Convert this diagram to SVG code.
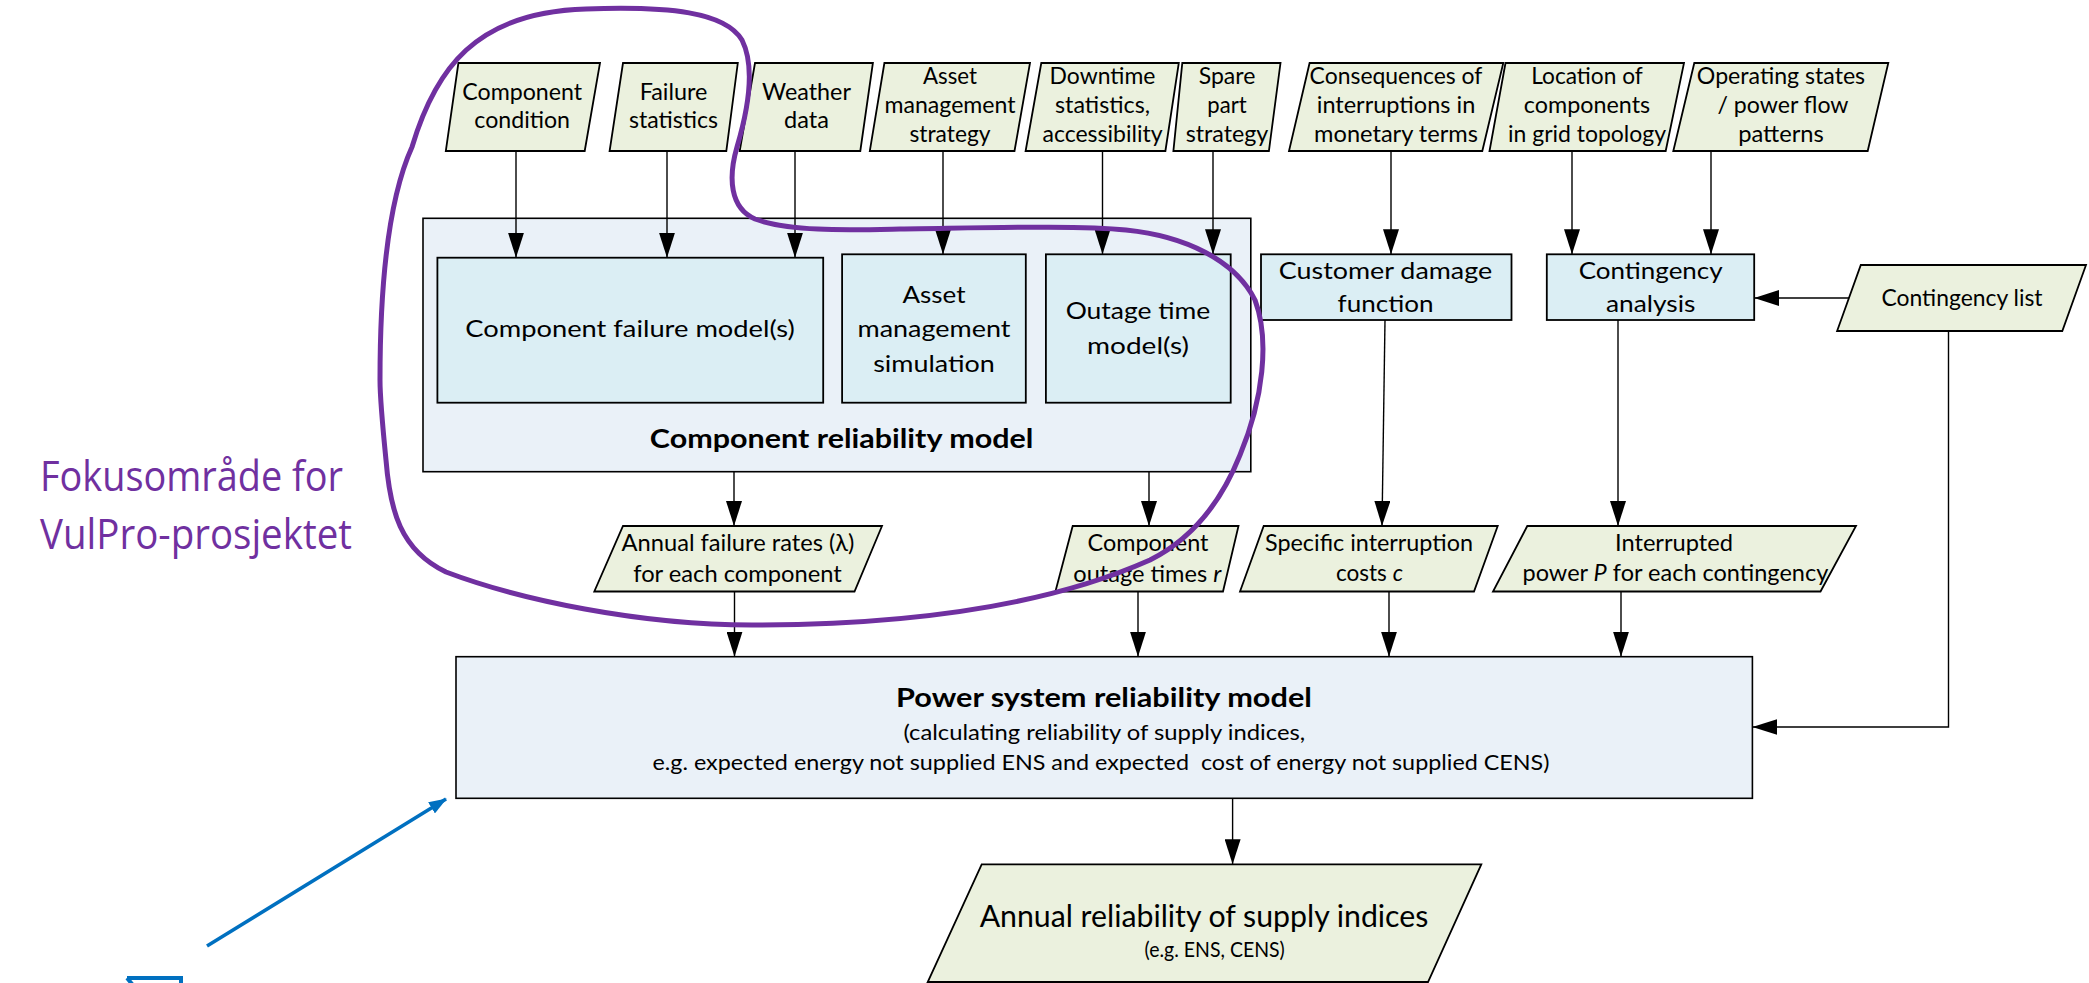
<svg xmlns="http://www.w3.org/2000/svg" width="2089" height="983" viewBox="0 0 2089 983">
  <defs>
    <style>
      .para { fill: #EBF1DE; stroke: #000; stroke-width: 1.8; }
      .box { fill: #DBEEF4; stroke: #000; stroke-width: 1.8; }
      .outer { fill: #EAF1F8; stroke: #000; stroke-width: 1.6; }
      .t { font-family: Lato, "Liberation Sans", sans-serif; fill: #000; text-anchor: middle; }
      .in { font-size: 24px; }
      .mid { font-size: 22.5px; }
      .sub { font-size: 22px; }
      .bold { font-weight: bold; font-size: 27px; }
      .conn { stroke: #000; stroke-width: 1.4; fill: none; marker-end: url(#ah); }
      .focus { fill: none; stroke: #7030A0; stroke-width: 5; }
      .note { font-family: "Open Sans", "Noto Sans", sans-serif; font-size: 42px; fill: #7030A0; }
    </style>
    <marker id="ah" markerUnits="userSpaceOnUse" markerWidth="25" markerHeight="16" viewBox="0 0 25 16" refX="25" refY="8" orient="auto">
      <path d="M0,0 L25,8 L0,16 z" fill="#000"/>
    </marker>
    <marker id="ahBlue" markerUnits="userSpaceOnUse" markerWidth="18" markerHeight="13" viewBox="0 0 18 13" refX="17" refY="6.5" orient="auto">
      <path d="M0,0 L18,6.5 L0,13 z" fill="#0070C0"/>
    </marker>
  </defs>

  <rect width="2089" height="983" fill="#fff"/>

  <!-- top row: input data -->
  <g id="in-component-condition">
    <polygon class="para" points="458.4,63 600,63 584.7,151 445.8,151"/>
    <text class="t in" x="522.2" y="100" textLength="119.8" lengthAdjust="spacingAndGlyphs">Component</text>
    <text class="t in" x="522.2" y="128.3" textLength="95.7" lengthAdjust="spacingAndGlyphs">condition</text>
  </g>
  <g id="in-failure-statistics">
    <polygon class="para" points="623,63 737.8,63 726.3,151 609.6,151"/>
    <text class="t in" x="673.5" y="100" textLength="67.7" lengthAdjust="spacingAndGlyphs">Failure</text>
    <text class="t in" x="673.5" y="128.3" textLength="89.2" lengthAdjust="spacingAndGlyphs">statistics</text>
  </g>
  <g id="in-weather-data">
    <polygon class="para" points="755,63 872.9,63 860.3,151 739.7,151"/>
    <text class="t in" x="806.5" y="100" textLength="88.8" lengthAdjust="spacingAndGlyphs">Weather</text>
    <text class="t in" x="806.5" y="128.3" textLength="44.8" lengthAdjust="spacingAndGlyphs">data</text>
  </g>
  <g id="in-asset-strategy">
    <polygon class="para" points="884.4,63 1030,63 1014.5,151 869.8,151"/>
    <text class="t in" x="950" y="84" textLength="54" lengthAdjust="spacingAndGlyphs">Asset</text>
    <text class="t in" x="950" y="113" textLength="131" lengthAdjust="spacingAndGlyphs">management</text>
    <text class="t in" x="950" y="142" textLength="81" lengthAdjust="spacingAndGlyphs">strategy</text>
  </g>
  <g id="in-downtime">
    <polygon class="para" points="1041.3,63 1178.8,63 1165.4,151 1025.6,151"/>
    <text class="t in" x="1102.5" y="84" textLength="105.8" lengthAdjust="spacingAndGlyphs">Downtime</text>
    <text class="t in" x="1102.5" y="113" textLength="95" lengthAdjust="spacingAndGlyphs">statistics,</text>
    <text class="t in" x="1102.5" y="142" textLength="120" lengthAdjust="spacingAndGlyphs">accessibility</text>
  </g>
  <g id="in-spare-part">
    <polygon class="para" points="1182.3,63 1280.5,63 1268.9,151 1173.4,151"/>
    <text class="t in" x="1227" y="84" textLength="56.7" lengthAdjust="spacingAndGlyphs">Spare</text>
    <text class="t in" x="1227" y="113" textLength="39.3" lengthAdjust="spacingAndGlyphs">part</text>
    <text class="t in" x="1227" y="142" textLength="82.6" lengthAdjust="spacingAndGlyphs">strategy</text>
  </g>
  <g id="in-consequences">
    <polygon class="para" points="1309.6,63 1503.3,63 1482.3,151 1289,151"/>
    <text class="t in" x="1396" y="84" textLength="172.8" lengthAdjust="spacingAndGlyphs">Consequences of</text>
    <text class="t in" x="1396" y="113" textLength="158.5" lengthAdjust="spacingAndGlyphs">interruptions in</text>
    <text class="t in" x="1396" y="142" textLength="163.8" lengthAdjust="spacingAndGlyphs">monetary terms</text>
  </g>
  <g id="in-location">
    <polygon class="para" points="1505.5,63 1684,63 1665.7,151 1489.5,151"/>
    <text class="t in" x="1587" y="84" textLength="111.6" lengthAdjust="spacingAndGlyphs">Location of</text>
    <text class="t in" x="1587" y="113" textLength="126.3" lengthAdjust="spacingAndGlyphs">components</text>
    <text class="t in" x="1587" y="142" textLength="158" lengthAdjust="spacingAndGlyphs">in grid topology</text>
  </g>
  <g id="in-operating-states">
    <polygon class="para" points="1694.3,63 1888.3,63 1867.7,151 1673.3,151"/>
    <text class="t in" x="1781" y="84" textLength="168.3" lengthAdjust="spacingAndGlyphs">Operating states</text>
    <text class="t in" x="1783" y="113" textLength="131" lengthAdjust="spacingAndGlyphs">/ power flow</text>
    <text class="t in" x="1781" y="142" textLength="85.7" lengthAdjust="spacingAndGlyphs">patterns</text>
  </g>

  <!-- component reliability model with its sub-models -->
  <g id="component-reliability-model">
    <rect class="outer" x="423" y="218.3" width="827.8" height="253.4"/>
    <text class="t bold" x="841.6" y="448.3" textLength="383.5" lengthAdjust="spacingAndGlyphs">Component reliability model</text>
  </g>
  <g id="component-failure-models">
    <rect class="box" x="437.4" y="257.7" width="385.8" height="145"/>
    <text class="t in" x="630" y="337.3" textLength="329.5" lengthAdjust="spacingAndGlyphs">Component failure model(s)</text>
  </g>
  <g id="asset-management-simulation">
    <rect class="box" x="842.1" y="254.3" width="183.7" height="148.4"/>
    <text class="t in" x="934" y="303.3" textLength="63" lengthAdjust="spacingAndGlyphs">Asset</text>
    <text class="t in" x="934" y="336.7" textLength="153" lengthAdjust="spacingAndGlyphs">management</text>
    <text class="t in" x="934" y="371.7" textLength="121.7" lengthAdjust="spacingAndGlyphs">simulation</text>
  </g>
  <g id="outage-time-models">
    <rect class="box" x="1045.9" y="254.3" width="184.8" height="148.4"/>
    <text class="t in" x="1138" y="319" textLength="144.7" lengthAdjust="spacingAndGlyphs">Outage time</text>
    <text class="t in" x="1138" y="354" textLength="102" lengthAdjust="spacingAndGlyphs">model(s)</text>
  </g>

  <g id="customer-damage-function">
    <rect class="box" x="1261" y="254.3" width="250.5" height="65.7"/>
    <text class="t in" x="1385.5" y="278.8" textLength="213.3" lengthAdjust="spacingAndGlyphs">Customer damage</text>
    <text class="t in" x="1385.5" y="311.7" textLength="96" lengthAdjust="spacingAndGlyphs">function</text>
  </g>
  <g id="contingency-analysis">
    <rect class="box" x="1546.8" y="254.3" width="207.4" height="65.7"/>
    <text class="t in" x="1650.7" y="279.3" textLength="144" lengthAdjust="spacingAndGlyphs">Contingency</text>
    <text class="t in" x="1650.7" y="311.7" textLength="89.5" lengthAdjust="spacingAndGlyphs">analysis</text>
  </g>
  <g id="contingency-list">
    <polygon class="para" points="1860.8,265 2086,265 2062.3,331 1837.1,331"/>
    <text class="t mid" x="1962" y="306" textLength="161" lengthAdjust="spacingAndGlyphs">Contingency list</text>
  </g>

  <!-- intermediate results -->
  <g id="annual-failure-rates">
    <polygon class="para" points="623,526 882,526 854.5,591.5 594.3,591.5"/>
    <text class="t mid" x="738" y="550.5" textLength="232.8" lengthAdjust="spacingAndGlyphs">Annual failure rates (λ)</text>
    <text class="t mid" x="737.5" y="582" textLength="208.5" lengthAdjust="spacingAndGlyphs">for each component</text>
  </g>
  <g id="component-outage-times">
    <polygon class="para" points="1072.7,526 1238.5,526 1223,591.5 1055.4,591.5"/>
    <text class="t mid" x="1148" y="550.5" textLength="121" lengthAdjust="spacingAndGlyphs">Component</text>
    <text class="t mid" x="1147.3" y="582" textLength="148" lengthAdjust="spacingAndGlyphs">outage times <tspan font-style="italic">r</tspan></text>
  </g>
  <g id="specific-interruption-costs">
    <polygon class="para" points="1263.7,526 1497.7,526 1474,591.5 1240,591.5"/>
    <text class="t mid" x="1369" y="550.5" textLength="208" lengthAdjust="spacingAndGlyphs">Specific interruption</text>
    <text class="t mid" x="1369.4" y="581" textLength="67" lengthAdjust="spacingAndGlyphs">costs <tspan font-style="italic">c</tspan></text>
  </g>
  <g id="interrupted-power">
    <polygon class="para" points="1527.3,526 1856,526 1820.5,591.5 1493,591.5"/>
    <text class="t mid" x="1674" y="550.5" textLength="118" lengthAdjust="spacingAndGlyphs">Interrupted</text>
    <text class="t mid" x="1675.4" y="581" textLength="305.7" lengthAdjust="spacingAndGlyphs">power <tspan font-style="italic">P</tspan> for each contingency</text>
  </g>

  <g id="power-system-reliability-model">
    <rect class="outer" x="456" y="656.7" width="1296.4" height="141.6"/>
    <text class="t bold" x="1104" y="706.7" textLength="415.8" lengthAdjust="spacingAndGlyphs">Power system reliability model</text>
    <text class="t sub" x="1104.3" y="740" textLength="401.8" lengthAdjust="spacingAndGlyphs">(calculating reliability of supply indices,</text>
    <text class="t sub" x="1101" y="770" textLength="897" lengthAdjust="spacingAndGlyphs" xml:space="preserve">e.g. expected energy not supplied ENS and expected  cost of energy not supplied CENS)</text>
  </g>

  <g id="annual-reliability-indices">
    <polygon class="para" points="981.7,864.3 1481.3,864.3 1428,982 927.7,982"/>
    <text class="t" font-size="30" x="1204" y="927" textLength="448.7" lengthAdjust="spacingAndGlyphs">Annual reliability of supply indices</text>
    <text class="t sub" x="1214.7" y="957" textLength="140.2" lengthAdjust="spacingAndGlyphs">(e.g. ENS, CENS)</text>
  </g>

  <!-- connectors -->
  <g id="connectors">
    <line class="conn" x1="516" y1="151" x2="516" y2="257.7"/>
    <line class="conn" x1="667" y1="151" x2="667" y2="257.7"/>
    <line class="conn" x1="795" y1="151" x2="795" y2="257.7"/>
    <line class="conn" x1="943" y1="151" x2="943" y2="254.3"/>
    <line class="conn" x1="1102.5" y1="151" x2="1102.5" y2="254.3"/>
    <line class="conn" x1="1213" y1="151" x2="1213" y2="254.3"/>
    <line class="conn" x1="1391" y1="151" x2="1391" y2="254.3"/>
    <line class="conn" x1="1572" y1="151" x2="1572" y2="254.3"/>
    <line class="conn" x1="1711" y1="151" x2="1711" y2="254.3"/>
    <line class="conn" x1="1849" y1="298" x2="1754.2" y2="298"/>
    <line class="conn" x1="734" y1="471.7" x2="734" y2="526"/>
    <line class="conn" x1="1149" y1="471.7" x2="1149" y2="526"/>
    <line class="conn" x1="1385" y1="320" x2="1382" y2="526"/>
    <line class="conn" x1="1618" y1="320" x2="1618" y2="526"/>
    <line class="conn" x1="734.5" y1="591.5" x2="734.5" y2="656.7"/>
    <line class="conn" x1="1138" y1="591.5" x2="1138" y2="656.7"/>
    <line class="conn" x1="1389" y1="591.5" x2="1389" y2="656.7"/>
    <line class="conn" x1="1621" y1="591.5" x2="1621" y2="656.7"/>
    <polyline class="conn" points="1948.5,331 1948.5,727 1752.4,727"/>
    <line class="conn" x1="1232.6" y1="798.3" x2="1232.6" y2="864.3"/>
    <line x1="207" y1="946" x2="446" y2="799" stroke="#0070C0" stroke-width="3.5" marker-end="url(#ahBlue)"/>
  </g>

  <!-- partly visible blue icon at the lower edge -->
  <path d="M127,978 L181,978 L181,990 M127,978 L137,990" fill="none" stroke="#0070C0" stroke-width="4"/>

  <!-- focus area outline and its caption -->
  <g id="focus-area">
    <path class="focus" d="M380,380 C380,290 388,200 412,147 C435,70 475,12 586,9 C670,6 725,12 742,40 C756,68 748,110 737,147 C728,178 730,208 755,219 C790,232 850,230 900,229 C980,228 1080,225 1126,230 C1185,236 1235,260 1255,300 C1270,340 1263,400 1240,455 C1220,505 1190,540 1150,560 C1060,600 930,625 752,625 C640,625 520,600 446,572 C400,550 390,510 386,460 C382,420 380,400 380,380 Z"/>
    <text class="note" x="40" y="491" textLength="303" lengthAdjust="spacingAndGlyphs">Fokusområde for</text>
    <text class="note" x="40" y="549" textLength="312" lengthAdjust="spacingAndGlyphs">VulPro-prosjektet</text>
  </g>
</svg>
